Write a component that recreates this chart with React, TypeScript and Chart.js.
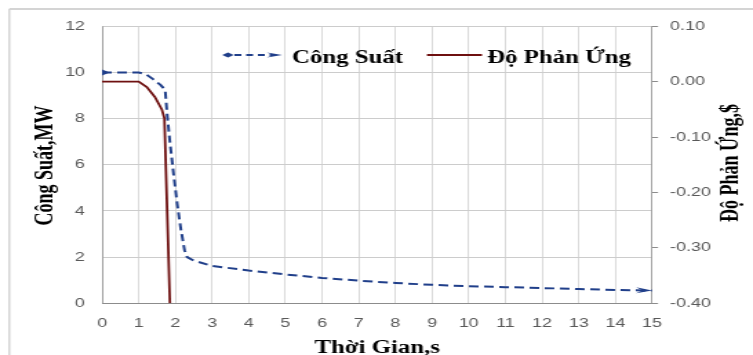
import { useEffect, useRef } from 'react';
import { Chart, registerables } from 'chart.js';

Chart.register(...registerables);

// ---------- data ----------
const powerTime = [0, 1, 1.2, 1.4, 1.6, 1.72, 1.78, 1.85, 1.95, 2.05, 2.15, 2.25, 2.32, 2.5, 3, 4, 5, 6, 7, 8, 9, 10, 11, 12, 13, 14, 15];
const powerMW = [10, 10, 9.92, 9.7, 9.45, 9.25, 8.1, 7.0, 5.6, 4.3, 3.2, 2.3, 2.0, 1.85, 1.62, 1.42, 1.25, 1.1, 0.98, 0.88, 0.8, 0.74, 0.7, 0.66, 0.62, 0.58, 0.55];

const reactTime = [0, 1, 1.22, 1.44, 1.63, 1.7, 1.85];
const reactivity = [0, 0, -0.0095, -0.0275, -0.05, -0.066, -0.4];

const seriesNames = ['Công Suất', 'Độ Phản Ứng'];
const xTitle = 'Thời Gian,s';
const yLeftTitle = 'Công Suất,MW';
const yRightTitle = 'Độ Phản Ứng,$';

// ---------- look ----------
const W = 546; // internal canvas width, shown stretched to 753px
const H = 355;
const SX = 753 / W;
const BLUE = '#203f8a';
const RED = '#6e1010';
const GRID = '#cccccc';
const AXIS = '#8c8c8c';
const TICK = '#595959';
const TITLE_FONT = 'bold 18px "Liberation Serif"';

function drawDiamond(ctx: CanvasRenderingContext2D, x: number, y: number, hw: number, hh: number) {
  ctx.beginPath();
  ctx.moveTo(x - hw, y);
  ctx.lineTo(x, y - hh);
  ctx.lineTo(x + hw, y);
  ctx.lineTo(x, y + hh);
  ctx.closePath();
  ctx.fill();
}

function drawArrow(ctx: CanvasRenderingContext2D, x: number, y: number, angle: number, len: number, half: number) {
  ctx.save();
  ctx.translate(x, y);
  ctx.rotate(angle);
  ctx.beginPath();
  ctx.moveTo(0, 0);
  ctx.lineTo(-len, -half);
  ctx.lineTo(-len * 0.6, 0);
  ctx.lineTo(-len, half);
  ctx.closePath();
  ctx.fill();
  ctx.restore();
}

const decorPlugin = {
  id: 'decor',
  beforeDraw(chart: any) {
    const ctx = chart.ctx as CanvasRenderingContext2D;
    ctx.save();
    ctx.fillStyle = '#ffffff';
    ctx.fillRect(0, 0, chart.width, chart.height);
    ctx.strokeStyle = '#d4d4d4';
    ctx.lineWidth = 2;
    ctx.beginPath();
    ctx.moveTo(9.3 / SX, 9);
    ctx.lineTo(chart.width, 9);
    ctx.stroke();
    ctx.lineWidth = 2 / SX;
    ctx.beginPath();
    ctx.moveTo(9.3 / SX, 9);
    ctx.lineTo(9.3 / SX, chart.height);
    ctx.stroke();
    ctx.restore();
  },
  afterDatasetsDraw(chart: any) {
    const ctx = chart.ctx as CanvasRenderingContext2D;
    const pts = chart.getDatasetMeta(0).data;
    const area = chart.chartArea;
    ctx.save();
    ctx.fillStyle = BLUE;
    ctx.beginPath();
    ctx.rect(area.left, area.top, area.right - area.left, area.bottom - area.top);
    ctx.clip();
    drawDiamond(ctx, pts[0].x, pts[0].y, 5.5, 3);
    ctx.restore();
    ctx.save();
    ctx.fillStyle = BLUE;
    const a = pts[pts.length - 2];
    const b = pts[pts.length - 1];
    drawArrow(ctx, b.x, b.y, Math.atan2(b.y - a.y, b.x - a.x), 11.6, 3);
    ctx.restore();
  },
  afterDraw(chart: any) {
    const ctx = chart.ctx as CanvasRenderingContext2D;
    const area = chart.chartArea;
    ctx.save();
    ctx.fillStyle = '#000000';
    ctx.font = TITLE_FONT;
    // x title
    ctx.textAlign = 'center';
    ctx.textBaseline = 'alphabetic';
    ctx.fillText(xTitle, (area.left + area.right) / 2, 352.5);
    // left title
    ctx.save();
    ctx.translate(33.4, 165.5);
    ctx.rotate(-Math.PI / 2);
    ctx.textBaseline = 'middle';
    ctx.fillText(yLeftTitle, 0, 0);
    ctx.restore();
    // right title
    ctx.save();
    ctx.translate(530.1, 163);
    ctx.rotate(-Math.PI / 2);
    ctx.textBaseline = 'middle';
    ctx.fillText(yRightTitle, 0, 0);
    ctx.restore();

    // legend
    const ly = 55;
    ctx.fillStyle = BLUE;
    ctx.strokeStyle = BLUE;
    drawDiamond(ctx, 165.3, ly, 4.2, 2.4);
    ctx.lineWidth = 2;
    ctx.setLineDash([5, 3.5]);
    ctx.beginPath();
    ctx.moveTo(170, ly);
    ctx.lineTo(200, ly);
    ctx.stroke();
    ctx.setLineDash([]);
    drawArrow(ctx, 204.5, ly, 0, 11, 2.6);

    ctx.strokeStyle = RED;
    ctx.lineWidth = 1.8;
    ctx.beginPath();
    ctx.moveTo(309.6, ly);
    ctx.lineTo(349.5, ly);
    ctx.stroke();

    ctx.fillStyle = '#000000';
    ctx.textAlign = 'left';
    ctx.textBaseline = 'alphabetic';
    ctx.fillText(seriesNames[0], 211.7, 63);
    ctx.fillText(seriesNames[1], 353.2, 63);
    ctx.restore();
  },
};

export default function App() {
  const ref = useRef<HTMLCanvasElement>(null);

  useEffect(() => {
    const canvas = ref.current;
    if (!canvas) return;
    const tickFont = { family: '"Liberation Sans"', size: 13 };
    const chart = new Chart(canvas, {
      type: 'line',
      data: {
        datasets: [
          {
            label: seriesNames[0],
            data: powerTime.map((t, i) => ({ x: t, y: powerMW[i] })),
            borderColor: BLUE,
            backgroundColor: BLUE,
            borderWidth: 2,
            borderDash: [7, 4],
            pointRadius: 0,
            tension: 0,
            yAxisID: 'y',
          },
          {
            label: seriesNames[1],
            data: reactTime.map((t, i) => ({ x: t, y: reactivity[i] })),
            borderColor: RED,
            backgroundColor: RED,
            borderWidth: 1.8,
            pointRadius: 0,
            tension: 0,
            yAxisID: 'y1',
          },
        ],
      },
      options: {
        responsive: false,
        animation: false,
        devicePixelRatio: 1,
        layout: { padding: { top: 26.3, left: 0, right: 0, bottom: 0 } },
        plugins: {
          legend: { display: false },
          tooltip: { enabled: false },
          title: { display: false },
        },
        scales: {
          x: {
            type: 'linear',
            min: 0,
            max: 15,
            ticks: { stepSize: 1, color: TICK, font: tickFont, padding: 12 },
            grid: { color: GRID, lineWidth: 0.73, drawTicks: false },
            border: { color: AXIS, width: 1 },
            afterFit: (s: any) => { s.height = 51.7; },
          },
          y: {
            type: 'linear',
            position: 'left',
            min: 0,
            max: 12,
            ticks: { stepSize: 2, color: TICK, font: tickFont, padding: 12.4 },
            grid: { color: GRID, lineWidth: 1, drawTicks: false },
            border: { color: AXIS, width: 0.73 },
            afterFit: (s: any) => { s.width = 74; },
          },
          y1: {
            type: 'linear',
            position: 'right',
            min: -0.4,
            max: 0.1,
            ticks: {
              stepSize: 0.1,
              color: TICK,
              font: tickFont,
              padding: 8.7,
              callback: (v: any) => (Math.abs(Number(v)) < 1e-9 ? '0.00' : Number(v).toFixed(2)),
            },
            grid: { drawOnChartArea: false, drawTicks: true, tickLength: 4.35, color: AXIS, lineWidth: 1 },
            border: { color: AXIS, width: 0.73 },
            afterFit: (s: any) => { s.width = 73.2; },
          },
        },
      } as any,
      plugins: [decorPlugin],
    });
    return () => chart.destroy();
  }, []);

  return (
    <div style={{ position: 'fixed', left: 0, top: 0, width: 753, height: 355, overflow: 'hidden', background: '#fff' }}>
      <canvas ref={ref} width={W} height={H} style={{ width: '753px', height: '355px', display: 'block' }} />
    </div>
  );
}
